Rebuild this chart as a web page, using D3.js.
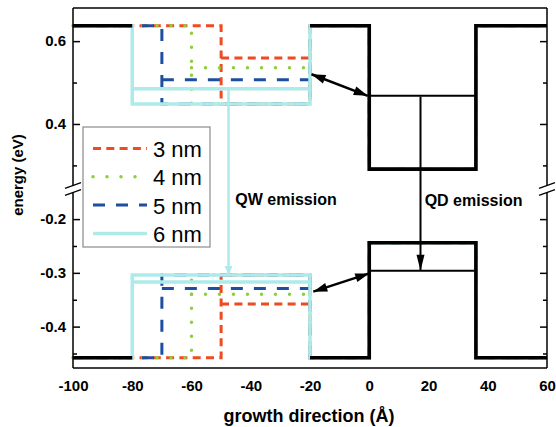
<!DOCTYPE html>
<html><head><meta charset="utf-8">
<script src="https://cdn.jsdelivr.net/npm/d3@7"></script>
<style>body{margin:0;background:#fff}svg{display:block}text{font-family:"Liberation Sans",Arial,sans-serif}</style>
</head><body><svg id="c" width="556" height="427"></svg>
<script>
// ---- data ----
const seriesNames = ["3 nm", "4 nm", "5 nm", "6 nm"];
const seriesColors = ["#ee4b22", "#8ccf3a", "#1e4ea0", "#aeeaea"];
const seriesDash = ["8,5.3", "0,14", "12,11", null];
const seriesWidth = [3, 3.5, 3, 3.5];
const wellStart = [-50, -60, -70, -80];
const wellEnd = -20;
const cbLevels = [0.559, 0.536, 0.507, 0.485];
const vbLevels = [-0.358, -0.340, -0.329, -0.317];
const cbBarrier = 0.637, cbWell = 0.448;
const vbBarrier = -0.458, vbWell = -0.304;
const qdRange = [0, 36];
const qdCb = 0.291, qdVb = -0.244;
const qdCbLevel = 0.468, qdVbLevel = -0.296;
const xTicks = [-100, -80, -60, -40, -20, 0, 20, 40, 60];
const yUpMajor = [0.4, 0.6], yUpMinor = [0.3, 0.5];
const yLoMajor = [-0.4, -0.3, -0.2], yLoMinor = [-0.45, -0.35, -0.25];
const qwArrow = {x: -47.5, from: 0.485, to: -0.304};
const qdArrow = {x: 17.3, from: 0.466, to: -0.296};
const dblUp = [[-19.5, 0.52], [-0.5, 0.468]];
const dblLo = [[-18.9, -0.335], [0, -0.301]];

// ---- layout ----
const L = 73, R = 547, T = 8, B = 368, BRK = 189;
const svg = d3.select("#c");
const x = d3.scaleLinear().domain([-100, 60]).range([L, R]);
const yUp = d3.scaleLinear().domain([0.243, 0.68]).range([BRK, T]);
const yLo = d3.scaleLinear().domain([-0.477, -0.144]).range([B, BRK]);

const lineUp = d3.line().x(d => x(d[0])).y(d => yUp(d[1]));
const lineLo = d3.line().x(d => x(d[0])).y(d => yLo(d[1]));

function cbPts(ws) {
  return [[-100, cbBarrier], [ws, cbBarrier], [ws, cbWell], [wellEnd, cbWell], [wellEnd, cbBarrier],
          [qdRange[0], cbBarrier], [qdRange[0], qdCb], [qdRange[1], qdCb], [qdRange[1], cbBarrier], [60, cbBarrier]];
}
function vbPts(ws) {
  return [[-100, vbBarrier], [ws, vbBarrier], [ws, vbWell], [wellEnd, vbWell], [wellEnd, vbBarrier],
          [qdRange[0], vbBarrier], [qdRange[0], qdVb], [qdRange[1], qdVb], [qdRange[1], vbBarrier], [60, vbBarrier]];
}

const plot = svg.append("g");
seriesNames.forEach((n, i) => {
  const style = s => s.attr("fill", "none").attr("stroke", seriesColors[i]).attr("stroke-width", seriesWidth[i])
    .attr("stroke-dasharray", seriesDash[i]).attr("stroke-linecap", i === 1 ? "round" : "butt");
  plot.append("path").attr("d", lineUp(cbPts(wellStart[i]))).call(style);
  plot.append("path").attr("d", lineLo(vbPts(wellStart[i]))).call(style);
  plot.append("path").attr("d", lineUp([[wellStart[i], cbLevels[i]], [wellEnd, cbLevels[i]]])).call(style);
  plot.append("path").attr("d", lineLo([[wellStart[i], vbLevels[i]], [wellEnd, vbLevels[i]]])).call(style);
});

// black QD band lines
const blk = s => s.attr("fill", "none").attr("stroke", "#000").attr("stroke-width", 3.6);
plot.append("path").attr("d", lineUp([[-100, cbBarrier], [-80, cbBarrier]])).call(blk);
plot.append("path").attr("d", lineUp(cbPts(-20).slice(4))).call(blk);
plot.append("path").attr("d", lineLo([[-100, vbBarrier], [-80, vbBarrier]])).call(blk);
plot.append("path").attr("d", lineLo(vbPts(-20).slice(4))).call(blk);
plot.append("path").attr("d", lineUp([[qdRange[0], qdCbLevel], [qdRange[1], qdCbLevel]])).attr("stroke", "#000").attr("stroke-width", 2);
plot.append("path").attr("d", lineLo([[qdRange[0], qdVbLevel], [qdRange[1], qdVbLevel]])).attr("stroke", "#000").attr("stroke-width", 2);

// arrows
function head(p, q, len, wid, color) {
  const dx = q[0] - p[0], dy = q[1] - p[1], d = Math.hypot(dx, dy);
  const ux = dx / d, uy = dy / d;
  const bx = q[0] - ux * len, by = q[1] - uy * len;
  plot.append("path").attr("d", `M${q[0]},${q[1]}L${bx - uy * wid / 2},${by + ux * wid / 2}L${bx + uy * wid / 2},${by - ux * wid / 2}Z`)
    .attr("fill", color);
}
function arrow(p, q, color, w, len, wid, both) {
  plot.append("line").attr("x1", p[0]).attr("y1", p[1]).attr("x2", q[0]).attr("y2", q[1])
    .attr("stroke", color).attr("stroke-width", w);
  head(p, q, len, wid, color);
  if (both) head(q, p, len, wid, color);
}
arrow([x(qwArrow.x), yUp(qwArrow.from)], [x(qwArrow.x), yLo(qwArrow.to)], "#aeeaea", 2.5, 9, 8, false);
arrow([x(qdArrow.x), yUp(qdArrow.from)], [x(qdArrow.x), yLo(qdArrow.to)], "#000", 2, 16, 8, false);
arrow([x(dblUp[0][0]), yUp(dblUp[0][1])], [x(dblUp[1][0]), yUp(dblUp[1][1])], "#000", 2.5, 14, 9, true);
arrow([x(dblLo[0][0]), yLo(dblLo[0][1])], [x(dblLo[1][0]), yLo(dblLo[1][1])], "#000", 2.5, 14, 9, true);

// legend
const lg = svg.append("g");
lg.append("rect").attr("x", 83).attr("y", 127).attr("width", 127).attr("height", 120)
  .attr("fill", "#fff").attr("stroke", "#8a8a8a").attr("stroke-width", 1.2);
seriesNames.forEach((n, i) => {
  const yy = 148.5 + i * 28.3;
  lg.append("line").attr("x1", 93).attr("x2", 147).attr("y1", yy).attr("y2", yy)
    .attr("stroke", seriesColors[i]).attr("stroke-width", seriesWidth[i])
    .attr("stroke-dasharray", seriesDash[i]).attr("stroke-linecap", i === 1 ? "round" : "butt");
  lg.append("text").attr("x", 153).attr("y", yy + 8.6).attr("font-size", 22).text(n);
});

// frame & axes
const fr = svg.append("g").attr("stroke", "#000").attr("stroke-width", 1.5);
fr.append("line").attr("x1", L).attr("x2", R).attr("y1", T).attr("y2", T);
fr.append("line").attr("x1", L).attr("x2", R).attr("y1", B).attr("y2", B);
fr.append("line").attr("x1", L).attr("x2", L).attr("y1", T).attr("y2", B);
fr.append("line").attr("x1", R).attr("x2", R).attr("y1", T).attr("y2", B);

const fmt = d => d.toFixed(1);
function yAxes(scale, major, minor) {
  svg.append("g").attr("transform", `translate(${L},0)`)
    .call(d3.axisLeft(scale).tickValues(major).tickSizeInner(-7).tickSizeOuter(0).tickPadding(7).tickFormat(fmt));
  svg.append("g").attr("transform", `translate(${L},0)`)
    .call(d3.axisLeft(scale).tickValues(minor).tickSizeInner(-4).tickSizeOuter(0).tickFormat(""));
  svg.append("g").attr("transform", `translate(${R},0)`)
    .call(d3.axisRight(scale).tickValues(major).tickSizeInner(-7).tickSizeOuter(0).tickFormat(""));
  svg.append("g").attr("transform", `translate(${R},0)`)
    .call(d3.axisRight(scale).tickValues(minor).tickSizeInner(-4).tickSizeOuter(0).tickFormat(""));
}
yAxes(yUp, yUpMajor, yUpMinor);
yAxes(yLo, yLoMajor, yLoMinor);
svg.append("g").attr("transform", `translate(0,${B})`)
  .call(d3.axisBottom(x).tickValues(xTicks).tickSize(0).tickPadding(12).tickFormat(d => String(d)));
svg.selectAll(".domain").remove();
svg.selectAll(".tick line").attr("stroke-width", 1.5);
svg.selectAll(".tick text").attr("font-size", 15).attr("font-weight", "bold").attr("fill", "#000")
  .attr("font-family", '"Liberation Sans",Arial,sans-serif');

// break marks
[L, R].forEach(ax => {
  svg.append("path").attr("d", `M${ax - 8},${BRK - 0.7}L${ax + 8},${BRK - 6.3}L${ax + 8},${BRK + 0.7}L${ax - 8},${BRK + 6.3}Z`)
    .attr("fill", "#fff");
  svg.append("line").attr("x1", ax - 8).attr("y1", BRK - 0.7).attr("x2", ax + 8).attr("y2", BRK - 6.3)
    .attr("stroke", "#000").attr("stroke-width", 1.3);
  svg.append("line").attr("x1", ax - 8).attr("y1", BRK + 6.3).attr("x2", ax + 8).attr("y2", BRK + 0.7)
    .attr("stroke", "#000").attr("stroke-width", 1.3);
});

// labels
svg.append("text").attr("x", 309).attr("y", 422).attr("text-anchor", "middle")
  .attr("font-size", 18).attr("font-weight", "bold").text("growth direction (Å)");
svg.append("text").attr("transform", "translate(23,175) rotate(-90)").attr("text-anchor", "middle")
  .attr("font-size", 15).attr("font-weight", "bold").text("energy (eV)");
svg.append("text").attr("x", x(-45.2)).attr("y", yLo(-0.173))
  .attr("font-size", 16).attr("font-weight", "bold").text("QW emission");
svg.append("text").attr("x", x(18.7)).attr("y", yLo(-0.175))
  .attr("font-size", 16).attr("font-weight", "bold").text("QD emission");
</script></body></html>
